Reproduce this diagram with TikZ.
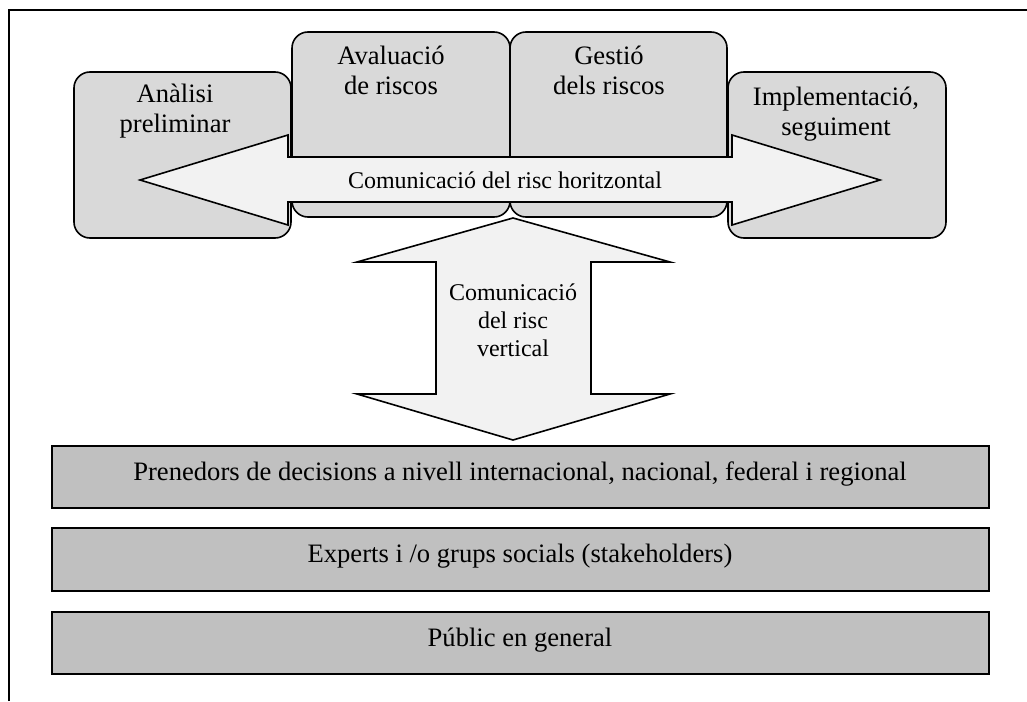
\documentclass[tikz,border=0pt]{standalone}
\usepackage{fontspec}
\setmainfont{Liberation Serif}
\definecolor{stagefill}{HTML}{D9D9D9}
\definecolor{levelfill}{HTML}{C0C0C0}
\definecolor{arrowfill}{HTML}{F2F2F2}
\newcommand{\lines}[1]{\begin{tabular}[t]{@{}c@{}}#1\end{tabular}}
\begin{document}
\begin{tikzpicture}[x=0.5pt,y=-0.5pt,
  frameline/.style={draw=black, line width=1pt},
  stage/.style={draw=black, line width=0.8pt, fill=stagefill, rounded corners=8pt},
  level/.style={draw=black, line width=1.1pt, fill=levelfill},
  comarrow/.style={draw=black, line width=0.8pt, fill=arrowfill, line join=miter},
  lbl/.style={inner sep=0pt, anchor=base, font=\fontsize{13.3}{15}\selectfont},
  albl/.style={inner sep=0pt, anchor=base, font=\fontsize{12}{14}\selectfont}]
\useasboundingbox (0,0) rectangle (1027,701);

% open frame: top and left edges only
\draw[frameline] (9,701) -- (9,10) -- (1027,10);

% stages of the process
\path[stage] (74,72) rectangle (291,238);
\path[stage] (728,72) rectangle (946,238);
\path[stage] (292,32) rectangle (510,217);
\path[stage] (510,32) rectangle (727,217);

% horizontal communication arrow
\path[comarrow] (140,180) -- (288,135) -- (288,157) -- (732,157) -- (732,135)
  -- (880,180) -- (732,225) -- (732,202) -- (288,202) -- (288,225) -- cycle;

% vertical communication arrow
\path[comarrow] (513,218) -- (670,262) -- (591,262) -- (591,394) -- (670,394)
  -- (513,440) -- (357,394) -- (436,394) -- (436,262) -- (357,262) -- cycle;

% levels of decision
\path[level] (52,446) rectangle (989,508);
\path[level] (52,528) rectangle (989,591);
\path[level] (52,612) rectangle (989,674);

% labels
\node[lbl] (analisi) at (175,103) {\lines{Anàlisi\\preliminar}};
\node[lbl] (avaluacio) at (391,65) {\lines{Avaluació\\de riscos}};
\node[lbl] (gestio) at (609,65) {\lines{Gestió\\dels riscos}};
\node[lbl] (implem) at (836,105) {\lines{Implementació,\\seguiment}};
\node[albl] (horitz) at (505,188) {Comunicació del risc horitzontal};
\node[albl] (vert) at (513,300) {\lines{Comunicació\\del risc\\vertical}};
\node[lbl] (prenedors) at (520,480) {Prenedors de decisions a nivell internacional, nacional, federal i regional};
\node[lbl] (experts) at (520,562) {Experts i /o grups socials (stakeholders)};
\node[lbl] (public) at (520,646) {Públic en general};
\end{tikzpicture}
\end{document}
